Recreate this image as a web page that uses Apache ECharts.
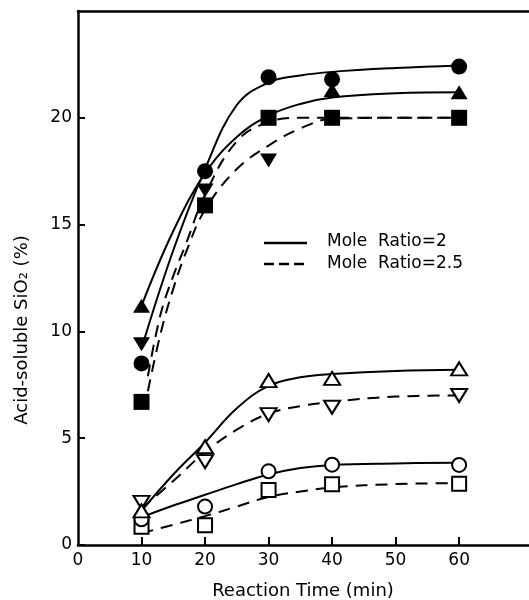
<!DOCTYPE html>
<html><head><meta charset="utf-8">
<script src="https://cdn.jsdelivr.net/npm/echarts@6/dist/echarts.min.js"></script>
<style>html,body{margin:0;padding:0;background:#fff}#c{width:529px;height:600px}</style>
</head><body><div id="c"></div><script>
// Sampling times (min) of the measurements
const times = [10, 20, 30, 40, 60];

// Measured acid-soluble SiO2 (%) — null where a point is hidden under another marker
const filledCircle   = [8.5, 17.5, 21.9, 21.8, 22.4];
const filledTriangle = [11.2, null, null, 21.3, 21.2];
const filledInvTri   = [9.4, 16.6, 18.0, null, null];
const filledSquare   = [6.7, 15.9, 20.0, 20.0, 20.0];
const openTriangle   = [1.6, 4.6, 7.7, 7.8, 8.25];
const openInvTri     = [2.0, 3.9, 6.1, 6.45, 7.0];
const openCircle     = [1.2, 1.8, 3.45, 3.76, 3.75];
const openSquare     = [0.85, 0.93, 2.58, 2.84, 2.87];

// Fitted trend curves
const curveTimes = [10, 15, 20, 25, 30, 35, 40, 50, 60];
const fitFilledCircle   = [9.2, 13.8, 17.6, 20.6, 21.65, 21.98, 22.15, 22.33, 22.45];
const fitFilledTriangle = [11.2, 14.7, 17.4, 19.1, 20.1, 20.65, 20.95, 21.15, 21.2];
const fitOpenTriangle   = [1.6, 3.3, 4.8, 6.4, 7.45, 7.85, 8.0, 8.15, 8.2];
const fitOpenInvTri     = [1.7, 3.0, 4.35, 5.4, 6.15, 6.5, 6.7, 6.95, 7.0];
const fitOpenCircle     = [1.3, 1.85, 2.35, 2.85, 3.3, 3.6, 3.75, 3.82, 3.85];
const fitOpenSquare     = [0.55, 0.95, 1.35, 1.8, 2.25, 2.5, 2.7, 2.85, 2.9];

const dashedTimes = [11, 13, 15, 17, 20, 25, 30, 35, 40, 50, 60];
const fitDashedUpper = [7.9, 10.8, 12.6, 14.1, 16.4, 18.9, 19.8, 20.0, 20.0, 20.0, 20.0];
const fitDashedLower = [7.2, 9.9, 12.0, 13.7, 15.7, 17.6, 18.7, 19.5, 19.95, 20.0, 20.0];

// Axis ticks
const xTicks = [10, 20, 30, 40, 50, 60];
const xLabels = [0, 10, 20, 30, 40, 50, 60];
const yTicks = [0, 5, 10, 15, 20];

const FONT = 'DejaVu Sans';

function pairs(ts, vs) {
  return ts.map((t, i) => vs[i] == null ? [t, '-'] : [t, vs[i]]);
}

function curve(ts, vs, dashed) {
  return {
    type: 'line', data: pairs(ts, vs), smooth: 0.4,
    showSymbol: false, silent: true, z: 2,
    lineStyle: { color: '#000', width: 2, type: dashed ? [12, 8] : 'solid' }
  };
}

function marks(vs, symbol, size, filled, rotate) {
  return {
    type: 'scatter', data: pairs(times, vs), symbol: symbol, symbolSize: size,
    symbolRotate: rotate || 0, z: 5,
    itemStyle: filled
      ? { color: '#000', opacity: 1 }
      : { color: '#fff', borderColor: '#000', borderWidth: 2, opacity: 1 }
  };
}

const chart = echarts.init(document.getElementById('c'), null, { renderer: 'canvas' });
chart.setOption({
  backgroundColor: '#fff',
  animation: false,
  grid: { left: 78, right: 0, top: 11, bottom: 55 },
  xAxis: [{
    type: 'value', min: 0, max: 71, interval: 10,
    splitLine: { show: false },
    axisLine: { lineStyle: { color: '#000', width: 2.5 } },
    axisTick: { inside: true, length: 8, customValues: xTicks, lineStyle: { color: '#000', width: 2 } },
    axisLabel: { customValues: xLabels, color: '#000', fontFamily: FONT, fontSize: 17, margin: 7 }
  }, {
    type: 'value', position: 'top', min: 0, max: 71,
    splitLine: { show: false }, axisTick: { show: false }, axisLabel: { show: false },
    axisLine: { lineStyle: { color: '#000', width: 2.5 } }
  }],
  yAxis: {
    type: 'value', min: 0, max: 25, interval: 5,
    splitLine: { show: false },
    axisLine: { lineStyle: { color: '#000', width: 2.5 } },
    axisTick: { inside: true, length: 7, customValues: yTicks, lineStyle: { color: '#000', width: 2 } },
    axisLabel: { customValues: yTicks, color: '#000', fontFamily: FONT, fontSize: 17, margin: 6 }
  },
  graphic: [
    { type: 'text', x: 22, y: 330, rotation: Math.PI / 2,
      style: { text: 'Acid-soluble SiO₂ (%)', font: '18px ' + FONT, fill: '#000', align: 'center', verticalAlign: 'middle' } },
    { type: 'text', x: 303, y: 591,
      style: { text: 'Reaction Time (min)', font: '18px ' + FONT, fill: '#000', align: 'center', verticalAlign: 'middle' } },
    { type: 'line', shape: { x1: 264, y1: 243, x2: 307, y2: 243 }, style: { stroke: '#000', lineWidth: 2.5 } },
    { type: 'line', shape: { x1: 264, y1: 264, x2: 307, y2: 264 }, style: { stroke: '#000', lineWidth: 2.5, lineDash: [10, 5] } },
    { type: 'text', x: 327, y: 242,
      style: { text: 'Mole  Ratio=2', font: '17px ' + FONT, fill: '#000', verticalAlign: 'middle' } },
    { type: 'text', x: 327, y: 264,
      style: { text: 'Mole  Ratio=2.5', font: '17px ' + FONT, fill: '#000', verticalAlign: 'middle' } }
  ],
  series: [
    curve(curveTimes, fitFilledCircle, false),
    curve(curveTimes, fitFilledTriangle, false),
    curve(dashedTimes, fitDashedUpper, true),
    curve(dashedTimes, fitDashedLower, true),
    curve(curveTimes, fitOpenTriangle, false),
    curve(curveTimes, fitOpenInvTri, true),
    curve(curveTimes, fitOpenCircle, false),
    curve(curveTimes, fitOpenSquare, true),
    marks(filledTriangle, 'triangle', [17, 14], true),
    marks(filledInvTri, 'triangle', [17, 14], true, 180),
    marks(filledSquare, 'rect', 16, true),
    marks(filledCircle, 'circle', 16, true),
    marks(openSquare, 'rect', 14, false),
    marks(openCircle, 'circle', 14, false),
    marks(openInvTri, 'triangle', [16, 13], false, 180),
    marks(openTriangle, 'triangle', [16, 13], false)
  ]
});
</script></body></html>
